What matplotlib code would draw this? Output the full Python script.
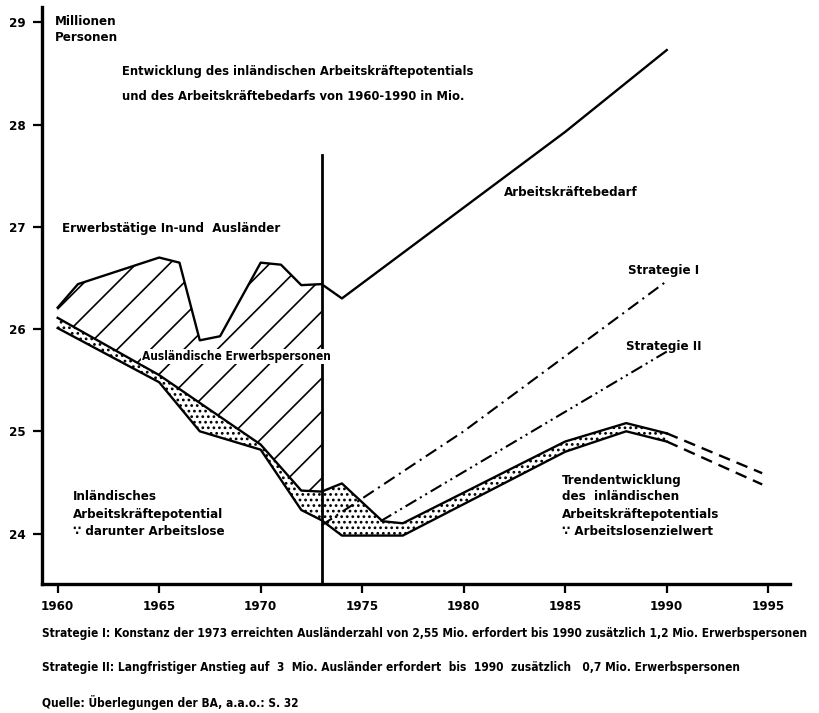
import matplotlib
matplotlib.use("Agg")
import matplotlib.pyplot as plt
import numpy as np

plt.rcParams['font.family'] = ['DejaVu Sans']
plt.rcParams['font.stretch'] = 'condensed'
plt.rcParams['font.weight'] = 'bold'
plt.rcParams['hatch.linewidth'] = 1.2

# Erwerbstaetige In- und Auslaender 1960-1973
years_total = [1960, 1961, 1965, 1966, 1967, 1968, 1970, 1971, 1972, 1973]
total = [26.21, 26.44, 26.70, 26.65, 25.89, 25.93, 26.65, 26.63, 26.43, 26.44]

# Arbeitskraeftebedarf 1973-1990
years_demand = [1973, 1974, 1985, 1990]
demand = [26.44, 26.30, 27.93, 28.73]

# inlaendisches Arbeitskraeftepotential (upper) and ohne Arbeitslose (lower)
years_pot = [1960, 1965, 1970, 1972, 1973, 1974, 1976, 1977, 1985, 1988, 1990]
pot_upper = [26.11, 25.55, 24.87, 24.42, 24.41, 24.49, 24.12, 24.10, 24.90, 25.08, 24.98]
years_low = [1960, 1965, 1967, 1970, 1972, 1973, 1974, 1977, 1985, 1988, 1990]
pot_lower = [26.01, 25.48, 25.00, 24.82, 24.23, 24.13, 23.98, 23.98, 24.80, 25.00, 24.90]

# trend beyond 1990 (dashed)
years_trend = [1990, 1994.7]
trend_upper = [24.98, 24.59]
trend_lower = [24.90, 24.48]

# strategies
years_s1 = [1973, 1980, 1990]
strat1 = [24.08, 25.00, 26.47]
years_s2 = [1975.9, 1990]
strat2 = [24.12, 25.78]

xticks = [1960, 1965, 1970, 1975, 1980, 1985, 1990, 1995]
yticks = [24, 25, 26, 27, 28, 29]

fig = plt.figure(figsize=(8.19, 7.13), dpi=100)
ax = fig.add_axes([0.0513, 0.1815, 0.9133, 0.8085])
ax.set_xlim(1959.23, 1996.07)
ax.set_ylim(23.51, 29.15)

# hatched area: auslaendische Erwerbspersonen (up to 1973)
hx = np.array(sorted(set(years_total) | set(y for y in years_pot if y <= 1973)))
top_i = np.interp(hx, years_total, total)
bot_i = np.interp(hx, years_pot, pot_upper)
ax.fill_between(hx, bot_i, top_i, facecolor='white', edgecolor='black',
                hatch='/', linewidth=0, zorder=1)

# dotted band: Arbeitslose
dx = np.array(sorted(set(years_pot) | set(years_low)))
up_i = np.interp(dx, years_pot, pot_upper)
lo_i = np.interp(dx, years_low, pot_lower)
ax.fill_between(dx, lo_i, up_i, facecolor='white', edgecolor='black',
                hatch='...', linewidth=0, zorder=1)

lw = 1.7
ax.plot(years_total, total, color='black', lw=lw, zorder=3)
ax.plot(years_demand, demand, color='black', lw=lw, zorder=3)
ax.plot(years_pot, pot_upper, color='black', lw=lw, zorder=3)
ax.plot(years_low, pot_lower, color='black', lw=lw, zorder=3)
ax.plot(years_trend, trend_upper, color='black', lw=lw, ls=(0, (5, 3)), zorder=3)
ax.plot(years_trend, trend_lower, color='black', lw=lw, ls=(0, (5, 3)), zorder=3)
ax.plot(years_s1, strat1, color='black', lw=1.5, ls=(0, (6, 2.5, 1, 2.5)), zorder=3)
ax.plot(years_s2, strat2, color='black', lw=1.5, ls=(0, (6, 2, 1, 2, 1, 2)), zorder=3)

# vertical line at 1973
ax.plot([1973, 1973], [23.51, 27.7], color='black', lw=2.0, zorder=4)

for s in ['top', 'right']:
    ax.spines[s].set_visible(False)
for s in ['left', 'bottom']:
    ax.spines[s].set_linewidth(2.4)
ax.set_xticks(xticks)
ax.set_yticks(yticks)
ax.tick_params(axis='both', direction='out', length=6.5, width=1.6, labelsize=9.5, pad=5)

fs = 9.5
ax.text(1959.87, 29.01, 'Millionen', fontsize=fs, va='center', ha='left')
ax.text(1959.87, 28.85, 'Personen', fontsize=fs, va='center', ha='left')
ax.text(1963.17, 28.52, 'Entwicklung des inländischen Arbeitskräftepotentials',
        fontsize=9.3, va='center', ha='left')
ax.text(1963.17, 28.28, 'und des Arbeitskräftebedarfs von 1960-1990 in Mio.',
        fontsize=9.3, va='center', ha='left')
ax.text(1960.21, 26.98, 'Erwerbstätige In-und  Ausländer', fontsize=fs, va='center', ha='left')
ax.text(1964.15, 25.73, 'Ausländische Erwerbspersonen', fontsize=8.6, va='center', ha='left',
        zorder=5, bbox=dict(facecolor='white', edgecolor='none', pad=0.5))
ax.text(1960.77, 24.36, 'Inländisches', fontsize=fs, va='center', ha='left')
ax.text(1960.77, 24.19, 'Arbeitskräftepotential', fontsize=fs, va='center', ha='left')
ax.text(1960.77, 24.02, '∵ darunter Arbeitslose', fontsize=fs, va='center', ha='left')
ax.text(1981.99, 27.34, 'Arbeitskräftebedarf', fontsize=fs, va='center', ha='left')
ax.text(1988.09, 26.57, 'Strategie I', fontsize=fs, va='center', ha='left')
ax.text(1987.99, 25.83, 'Strategie II', fontsize=fs, va='center', ha='left')
ax.text(1984.84, 24.52, 'Trendentwicklung', fontsize=fs, va='center', ha='left')
ax.text(1984.84, 24.36, 'des  inländischen', fontsize=fs, va='center', ha='left')
ax.text(1984.84, 24.19, 'Arbeitskräftepotentials', fontsize=fs, va='center', ha='left')
ax.text(1984.84, 24.02, '∵ Arbeitslosenzielwert', fontsize=fs, va='center', ha='left')

notes = [
    'Strategie I: Konstanz der 1973 erreichten Ausländerzahl von 2,55 Mio. erfordert bis 1990 zusätzlich 1,2 Mio. Erwerbspersonen',
    'Strategie II: Langfristiger Anstieg auf  3  Mio. Ausländer erfordert  bis  1990  zusätzlich   0,7 Mio. Erwerbspersonen',
    'Quelle: Überlegungen der BA, a.a.o.: S. 32',
]
for txt, py in zip(notes, [634, 667, 702]):
    fig.text(42 / 819, 1 - py / 713, txt, fontsize=8.6, va='center', ha='left')

fig.savefig('out.png', dpi=100)
